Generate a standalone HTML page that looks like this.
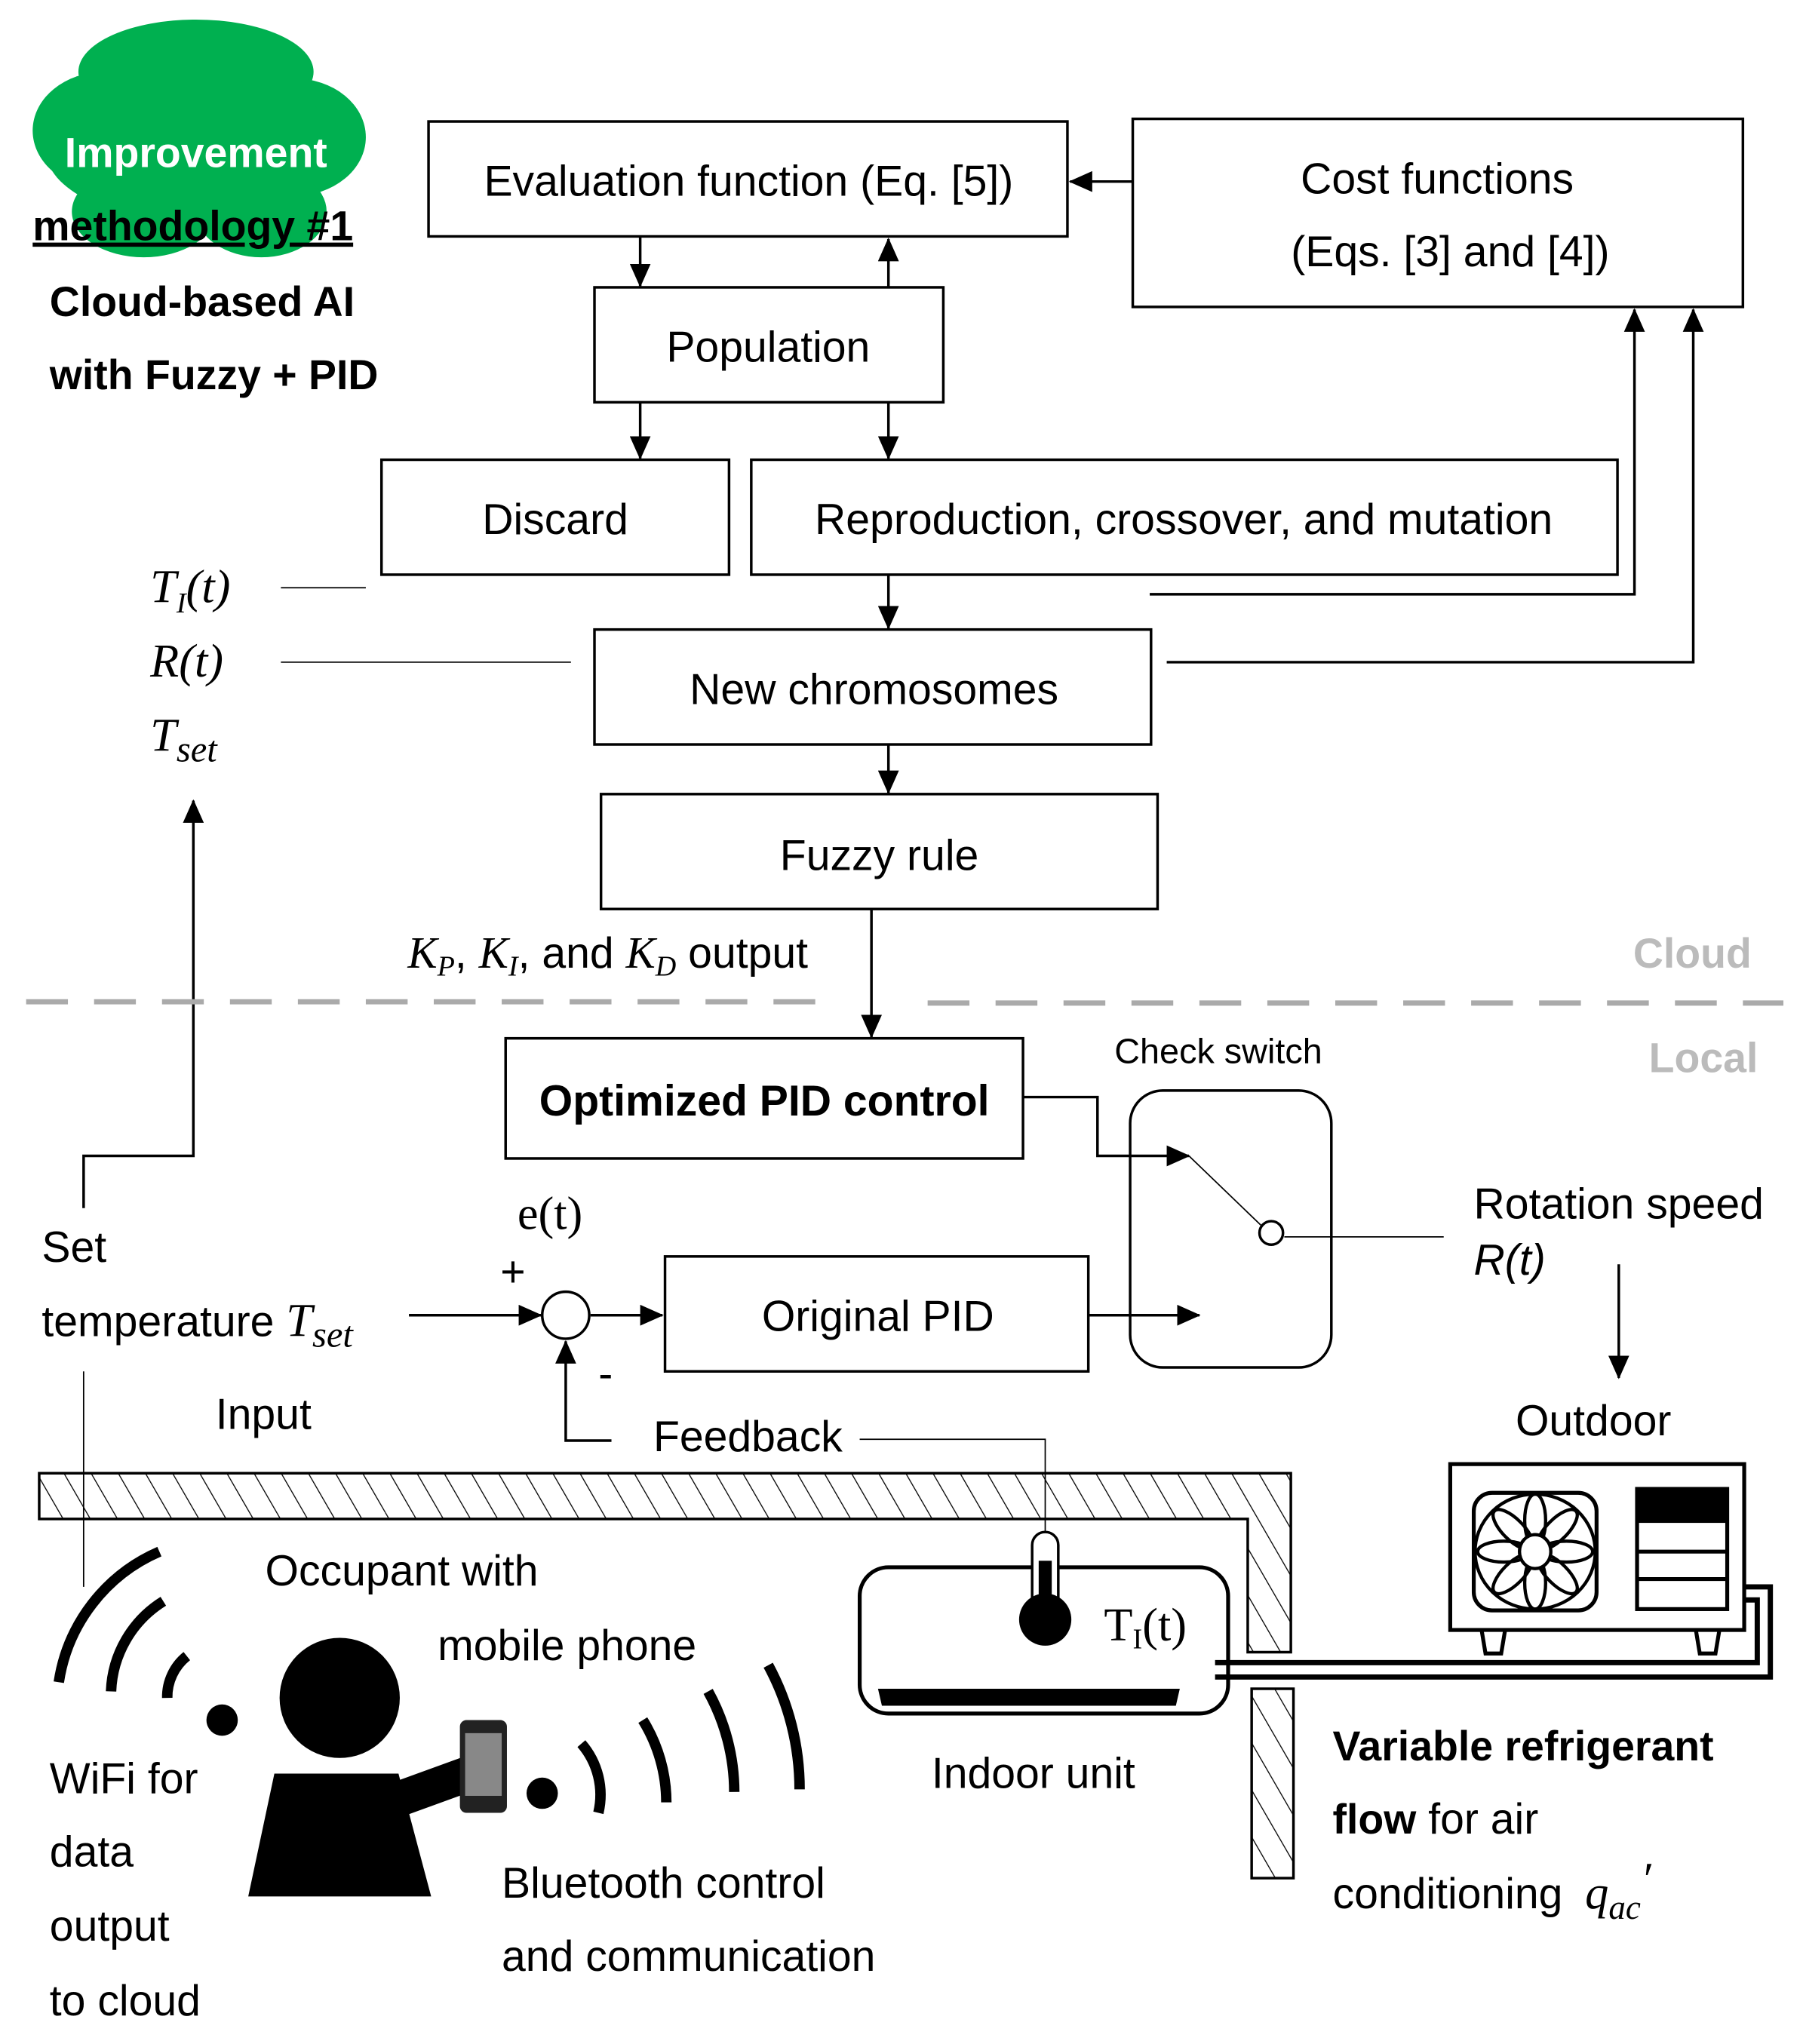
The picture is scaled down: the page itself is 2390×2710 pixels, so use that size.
<!DOCTYPE html>
<html><head><meta charset="utf-8"><style>
html,body{margin:0;padding:0;background:#fff}
svg{display:block}
text{font-family:"Liberation Sans",sans-serif;font-size:33px;fill:#000}
.s{font-family:"Liberation Serif",serif;font-style:italic}
.b{font-weight:bold;font-size:32px}
</style></head><body>
<svg width="2390" height="2710" viewBox="0 0 1380 1565" preserveAspectRatio="none" xmlns="http://www.w3.org/2000/svg">
<defs>
<marker id="A" markerWidth="18" markerHeight="16" refX="17" refY="8" orient="auto" markerUnits="userSpaceOnUse" viewBox="0 0 18 16"><path d="M0,0 L18,8 L0,16z"/></marker>
<pattern id="h" width="18" height="18" patternUnits="userSpaceOnUse" patternTransform="rotate(-30)"><line x1="0" y1="0" x2="0" y2="18" stroke="#000" stroke-width="1.5"/></pattern>
</defs>
<g fill="#00b050">
<ellipse cx="150" cy="55" rx="90" ry="40"/><ellipse cx="80" cy="100" rx="55" ry="45"/><ellipse cx="225" cy="105" rx="55" ry="45"/>
<ellipse cx="150" cy="115" rx="115" ry="55"/><ellipse cx="110" cy="162" rx="55" ry="35"/><ellipse cx="200" cy="162" rx="50" ry="35"/>
</g>
<text x="150" y="128" text-anchor="middle" class="b" style="fill:#fff">Improvement</text>
<text x="25" y="184" class="b" text-decoration="underline">methodology #1</text>
<text x="38" y="242" class="b">Cloud-based AI</text>
<text x="38" y="298" class="b">with Fuzzy + PID</text>
<g fill="none" stroke="#000" stroke-width="2">
<rect x="328" y="93" width="489" height="88"/>
<rect x="867" y="91" width="467" height="144"/>
<rect x="455" y="220" width="267" height="88"/>
<rect x="292" y="352" width="266" height="88"/>
<rect x="575" y="352" width="663" height="88"/>
<rect x="455" y="482" width="426" height="88"/>
<rect x="460" y="608" width="426" height="88"/>
<rect x="387" y="795" width="396" height="92"/>
<rect x="509" y="962" width="324" height="88"/>
<rect x="865" y="835" width="154" height="212" rx="25"/>
</g>
<text x="573" y="150" text-anchor="middle">Evaluation function (Eq. [5])</text>
<text x="1100" y="148" text-anchor="middle">Cost functions</text>
<text x="1110" y="204" text-anchor="middle">(Eqs. [3] and [4])</text>
<text x="588" y="277" text-anchor="middle">Population</text>
<text x="425" y="409" text-anchor="middle">Discard</text>
<text x="906" y="409" text-anchor="middle">Reproduction, crossover, and mutation</text>
<text x="669" y="539" text-anchor="middle">New chromosomes</text>
<text x="673" y="666" text-anchor="middle">Fuzzy rule</text>
<text x="585" y="854" text-anchor="middle" class="b" style="font-size:33px">Optimized PID control</text>
<text x="672" y="1019" text-anchor="middle">Original PID</text>
<g stroke="#000" stroke-width="2" fill="none">
<line x1="867" y1="139" x2="819" y2="139" marker-end="url(#A)"/>
<line x1="490" y1="181" x2="490" y2="219" marker-end="url(#A)"/>
<line x1="680" y1="220" x2="680" y2="183" marker-end="url(#A)"/>
<line x1="490" y1="308" x2="490" y2="351" marker-end="url(#A)"/>
<line x1="680" y1="308" x2="680" y2="351" marker-end="url(#A)"/>
<line x1="680" y1="440" x2="680" y2="481" marker-end="url(#A)"/>
<line x1="680" y1="570" x2="680" y2="607" marker-end="url(#A)"/>
<line x1="667" y1="696" x2="667" y2="794" marker-end="url(#A)"/>
<polyline points="880,455 1251,455 1251,237" marker-end="url(#A)"/>
<polyline points="893,507 1296,507 1296,237" marker-end="url(#A)"/>
<line x1="215" y1="450" x2="280" y2="450" stroke-width="1"/>
<line x1="215" y1="507" x2="437" y2="507" stroke-width="1"/>
<polyline points="64,925 64,885 148,885 148,613" marker-end="url(#A)"/>
<polyline points="783,840 840,840 840,885 910,885" marker-end="url(#A)"/>
<line x1="910" y1="885" x2="965" y2="938" stroke-width="1"/>
<circle cx="973" cy="944" r="9"/>
<line x1="983" y1="947" x2="1105" y2="947" stroke-width="1"/>
<line x1="1239" y1="968" x2="1239" y2="1055" marker-end="url(#A)"/>
<line x1="833" y1="1007" x2="918" y2="1007" marker-end="url(#A)"/>
<line x1="313" y1="1007" x2="414" y2="1007" marker-end="url(#A)"/>
<circle cx="433" cy="1007" r="18"/>
<line x1="452" y1="1007" x2="507" y2="1007" marker-end="url(#A)"/>
<polyline points="468,1103 433,1103 433,1027" marker-end="url(#A)"/>
<polyline points="658,1102 800,1102 800,1175" stroke-width="1"/>
<line x1="64" y1="1050" x2="64" y2="1215" stroke-width="1"/>
</g>
<g stroke="#aaa" stroke-width="4" stroke-dasharray="32,20">
<line x1="20" y1="767" x2="625" y2="767"/><line x1="710" y1="768" x2="1365" y2="768"/>
</g>
<text x="1250" y="741" class="b" style="fill:#bbb">Cloud</text>
<text x="1262" y="821" class="b" style="fill:#bbb">Local</text>
<text x="115" y="461" class="s" style="font-size:36px">T<tspan font-size="22" dy="8">I</tspan><tspan dy="-8">(t)</tspan></text>
<text x="115" y="518" class="s" style="font-size:36px">R(t)</text>
<text x="115" y="575" class="s" style="font-size:36px">T<tspan font-size="28" dy="8">set</tspan></text>
<text x="312" y="741"><tspan class="s" style="font-size:34px">K<tspan font-size="22" dy="6">P</tspan></tspan><tspan dy="-6">, </tspan><tspan class="s" style="font-size:34px">K<tspan font-size="22" dy="6">I</tspan></tspan><tspan dy="-6">, and </tspan><tspan class="s" style="font-size:34px">K<tspan font-size="22" dy="6">D</tspan></tspan><tspan dy="-6"> output</tspan></text>
<text x="853" y="814" style="font-size:27px">Check switch</text>
<text x="1128" y="933">Rotation speed</text>
<text x="1128" y="976" font-style="italic">R(t)</text>
<text x="1160" y="1099">Outdoor</text>
<text x="396" y="941" style="font-family:'Liberation Serif',serif;font-size:36px">e(t)</text>
<text x="383" y="985">+</text>
<text x="458" y="1063">-</text>
<text x="32" y="966">Set</text>
<text x="32" y="1023">temperature <tspan class="s" style="font-size:36px">T<tspan font-size="28" dy="8">set</tspan></tspan></text>
<text x="165" y="1094">Input</text>
<text x="500" y="1111">Feedback</text>
<path d="M30,1128 L988,1128 L988,1265 L955,1265 L955,1163 L30,1163 Z" fill="url(#h)" stroke="#000" stroke-width="2"/>
<rect x="958" y="1293" width="32" height="145" fill="url(#h)" stroke="#000" stroke-width="2"/>
<rect x="658" y="1200" width="282" height="112" rx="22" fill="#fff" stroke="#000" stroke-width="3"/>
<path d="M672,1293 L903,1293 L900,1306 L675,1306Z"/>
<rect x="790" y="1173" width="20" height="60" rx="10" fill="#fff" stroke="#000" stroke-width="2"/>
<circle cx="800" cy="1240" r="20"/><rect x="795" y="1195" width="10" height="45"/>
<text x="845" y="1256" style="font-family:'Liberation Serif',serif;font-size:36px">T<tspan font-size="22" dy="6">I</tspan><tspan dy="-6">(t)</tspan></text>
<g fill="none" stroke="#000" stroke-width="4">
<polyline points="930,1273 1345,1273 1345,1225 1325,1225"/>
<polyline points="930,1284 1355,1284 1355,1215 1330,1215"/>
</g>
<rect x="1110" y="1121" width="225" height="127" fill="#fff" stroke="#000" stroke-width="3"/>
<rect x="1128" y="1143" width="94" height="90" rx="14" fill="none" stroke="#000" stroke-width="3"/>
<g fill="none" stroke="#000" stroke-width="2.5" transform="translate(1175,1188)">
<ellipse cx="0" cy="0" rx="46" ry="44"/>
<g id="p"><ellipse cx="0" cy="-24" rx="8" ry="20"/><ellipse cx="0" cy="24" rx="8" ry="20"/></g>
<use href="#p" transform="rotate(45)"/><use href="#p" transform="rotate(90)"/><use href="#p" transform="rotate(-45)"/>
<ellipse cx="0" cy="0" rx="12" ry="13" fill="#fff"/>
</g>
<rect x="1253" y="1140" width="69" height="92" fill="#fff" stroke="#000" stroke-width="3"/>
<rect x="1253" y="1140" width="69" height="26"/>
<line x1="1253" y1="1188" x2="1322" y2="1188" stroke="#000" stroke-width="3"/>
<line x1="1253" y1="1209" x2="1322" y2="1209" stroke="#000" stroke-width="3"/>
<path d="M1134,1248 L1152,1248 L1149,1266 L1137,1266Z M1298,1248 L1316,1248 L1313,1266 L1301,1266Z" fill="#fff" stroke="#000" stroke-width="3"/>
<text x="713" y="1369">Indoor unit</text>
<text x="1020" y="1348" class="b">Variable refrigerant</text>
<text x="1020" y="1404"><tspan class="b">flow</tspan> for air</text>
<text x="1020" y="1461">conditioning <tspan class="s" style="font-size:36px" dx="8">q<tspan font-size="26" dy="8">ac</tspan><tspan dy="-18">′</tspan></tspan></text>
<circle cx="260" cy="1300" r="46"/>
<path d="M210,1358 L305,1358 L330,1452 L190,1452Z"/>
<path d="M300,1365 L355,1345 L360,1372 L305,1392Z"/>
<rect x="352" y="1317" width="36" height="71" rx="5" fill="#222"/><rect x="356" y="1327" width="28" height="48" fill="#888"/>
<circle cx="170" cy="1317" r="12"/>
<g fill="none" stroke="#000" stroke-width="8">
<path d="M143,1268 A40,40 0 0 0 128,1300"/>
<path d="M125,1226 A85,85 0 0 0 85,1295"/>
<path d="M122,1188 A130,130 0 0 0 45,1288"/>
</g>
<circle cx="415" cy="1373" r="12"/>
<g fill="none" stroke="#000" stroke-width="8">
<path d="M445,1335 A60,60 0 0 1 458,1388"/>
<path d="M492,1317 A120,120 0 0 1 510,1380"/>
<path d="M542,1295 A160,160 0 0 1 562,1372"/>
<path d="M588,1275 A200,200 0 0 1 612,1370"/>
</g>
<text x="203" y="1214">Occupant with</text>
<text x="335" y="1271">mobile phone</text>
<text x="38" y="1373">WiFi for</text>
<text x="38" y="1429">data</text>
<text x="38" y="1486">output</text>
<text x="38" y="1543">to cloud</text>
<text x="384" y="1453">Bluetooth control</text>
<text x="384" y="1509">and communication</text>
</svg>
</body></html>
